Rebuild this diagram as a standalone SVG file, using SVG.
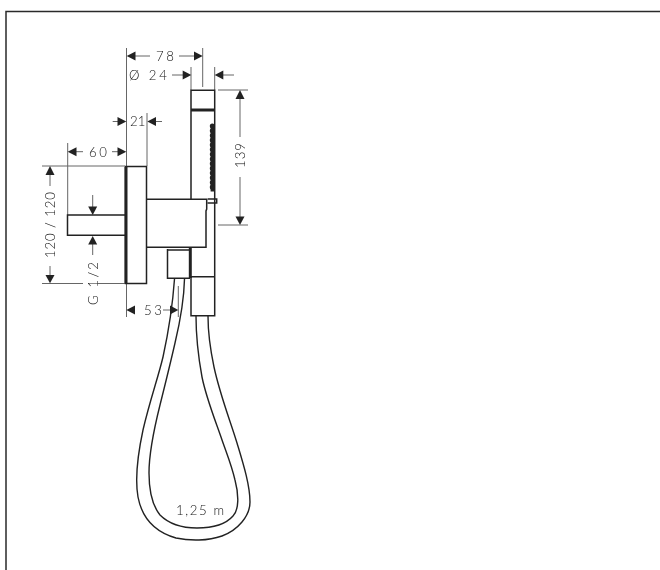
<svg xmlns="http://www.w3.org/2000/svg" width="660" height="570" viewBox="0 0 660 570">
<defs>
<style>
.bg{fill:#fff}
.frame{fill:none;stroke:#2a2a2a;stroke-width:1.5}
.thin{fill:none;stroke:#666;stroke-width:1}
.obj{fill:none;stroke:#222;stroke-width:1.5}
.hose{fill:none;stroke:#222;stroke-width:1.4}
.heavy{fill:none;stroke:#222;stroke-width:3}
.ah{fill:#222}
#labels{opacity:.99}
text{font-family:"Lato","Liberation Sans",Arial,sans-serif;font-size:13.200px;font-weight:300;fill:#111}
</style>
</defs>
<rect class="bg" width="660" height="570"/>
<path class="frame" d="M6 570V11.500H660"/>
<g id="connectors">
<path class="thin" d="M126.500 48V166M126.500 283V317M202.700 48V87M191 67V90M214.700 67V90M147 113V166M67.700 143V215M42 166H125M218 90H248M218 225H248M42 283.500H83M98 283.500H125M178.300 286V317"/>
<path class="thin" d="M135 56H150M179 56H194M172 75H183M223 75H234M112.700 121.500H118M156 121.500H162M76 151.700H83M112 151.700H118M50 175V186M50 266V275M240 99V137M240 177V217M92.700 195V207M92.700 244V255M163 310H170"/>
<g class="ah">
<polygon points="126.700,56 135.500,51.500 135.500,60.500"/><polygon points="202.700,56 194,51.500 194,60.500"/>
<polygon points="191.300,75 182.700,70.500 182.700,79.500"/><polygon points="214.700,75 223.300,70.500 223.300,79.500"/>
<polygon points="126.300,121.500 117.500,117 117.500,126"/><polygon points="147.300,121.500 156,117 156,126"/>
<polygon points="67.700,151.700 76.500,147.200 76.500,156.200"/><polygon points="126.300,151.700 117.500,147.200 117.500,156.200"/>
<polygon points="50,166 45.500,175 54.500,175"/><polygon points="50,283.300 45.500,275 54.500,275"/>
<polygon points="240,90 235.500,99 244.500,99"/><polygon points="240,225 235.500,216.500 244.500,216.500"/>
<polygon points="92.700,215 88.200,206.500 97.200,206.500"/><polygon points="92.700,236 88.200,244.500 97.200,244.500"/>
<polygon points="126.300,310 135,305.500 135,314.500"/><polygon points="178.300,310 170,305.500 170,314.500"/>
</g>
</g>
<g id="wall-plate"><rect class="obj" x="125.500" y="166.500" width="21" height="117"/><path class="heavy" d="M126 167V283"/></g>
<g id="connection-pipe"><path class="obj" d="M125 215H67.500V235.300H125"/></g>
<g id="holder"><path class="obj" d="M147 199.300H207M206.700 199.300V209L206 211V247.300H147"/><path class="obj" d="M207.500 199H216.700V203H207.500"/></g>
<g id="outlet"><path class="obj" d="M167.500 249V278.300H190"/><path class="obj" d="M167.500 250H190"/><path class="heavy" d="M190.300 248V278"/></g>
<g id="handshower"><path class="obj" d="M191 199V90.300H214.700V315.700H191V276.700H214.700"/><path class="heavy" d="M191 110H214.700"/><path d="M212.300 126V191.500" stroke="#222" stroke-width="3.400" fill="none"/><path d="M212.300 126V191.500" stroke="#222" stroke-width="5" fill="none" stroke-linecap="round" stroke-dasharray="0.100 4.600"/></g>
<g id="hose">
<path class="hose" d="M174.500 279C173 300 170 325 163 357C158 378 150 400 143 430C137 458 135 480 138 497C142 518 155 532 176 538C190 541 208 541 222 536C238 530 250 516 250 502C250 485 243 463 237 443C230 420 220 395 214 367C210 348 208 330 208 316"/>
<path class="hose" d="M184.500 279C184 300 180 322 175 343C170 365 165 385 160 405C155 425 149 450 149 473C149 490 152 505 160 515C170 525 183 528 197 528C212 528 226 524 233 516C239 510 239 495 235 480C231 463 226 452 221 437C214 417 206 397 202 377C198 355 196 335 196 316"/>
</g>
<g id="labels">
<text x="156" y="60.500" textLength="18">78</text>
<text x="129" y="80" textLength="38">Ø 24</text>
<text x="130" y="126" textLength="15.500">21</text>
<text x="89" y="156.500" textLength="18">60</text>
<text x="144" y="314.500" textLength="18">53</text>
<text x="176" y="515" textLength="48">1,25 m</text>
<text transform="translate(245 168) rotate(-90)" textLength="25">139</text>
<text transform="translate(55 258) rotate(-90)" textLength="66">120 / 120</text>
<text transform="translate(98 305) rotate(-90)" textLength="43">G 1/2</text>
</g>
</svg>
